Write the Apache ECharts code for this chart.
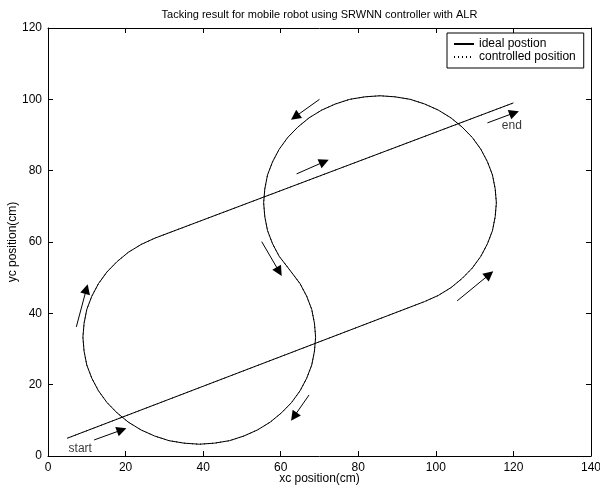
<!DOCTYPE html>
<html>
<head>
<meta charset="utf-8">
<script src="https://cdn.jsdelivr.net/npm/echarts@6/dist/echarts.min.js"></script>
<style>
  html, body { margin: 0; padding: 0; background: #fff; }
  #chart { width: 600px; height: 488px; }
</style>
</head>
<body>
<div id="chart"></div>
<script>
// trajectory (cm): straight run, upper loop (ccw), lower loop (cw), straight run
const pathX = [5,
  97.1, 100.6, 103.9, 106.8, 109.4, 111.6, 113.3, 114.6, 115.3, 115.6, 115.3, 114.6, 113.3, 111.6, 109.4, 106.8, 103.9, 100.6, 97.1, 93.4, 89.5,
  85.6, 81.7, 77.8, 74.1, 70.6, 67.3, 64.4, 61.8, 59.6, 57.9, 56.6, 55.9, 55.6, 55.9, 56.6, 57.9, 59.6, 62.3,
  65.0, 66.7, 68.0, 68.7, 69.0, 68.7, 68.0, 66.7, 65.0, 62.8, 60.2, 57.3, 54.0, 50.5, 46.8, 42.9, 39.0, 35.1, 31.2, 27.5,
  24.0, 20.7, 17.8, 15.2, 13.0, 11.3, 10.0, 9.3, 9.0, 9.3, 10.0, 11.3, 13.0, 15.2, 17.8, 20.7, 24.0, 27.6,
  120];
const pathY = [5,
  43.3, 45.0, 47.2, 49.8, 52.7, 56.0, 59.5, 63.2, 67.1, 71.0, 74.9, 78.8, 82.5, 86.0, 89.3, 92.2, 94.8, 97.0, 98.7, 100.0, 100.7,
  101.0, 100.7, 100.0, 98.7, 97.0, 94.8, 92.2, 89.3, 86.0, 82.5, 78.8, 74.9, 71.0, 67.1, 63.2, 59.5, 56.0, 52.2,
  48.3, 44.8, 41.1, 37.2, 33.3, 29.4, 25.5, 21.8, 18.3, 15.0, 12.1, 9.5, 7.3, 5.6, 4.3, 3.6, 3.3, 3.6, 4.3, 5.6,
  7.3, 9.5, 12.1, 15.0, 18.3, 21.8, 25.5, 29.4, 33.3, 37.2, 41.1, 44.8, 48.3, 51.6, 54.5, 57.1, 59.3, 61.1,
  99];

// direction arrows: tail -> tip
const arrowFromX = [11.9, 7.3, 55.1, 67.3, 70.0, 64.1, 113.3, 105.5];
const arrowFromY = [4.5, 36.2, 60.1, 17.1, 100.0, 79.1, 93.4, 43.5];
const arrowToX = [19.0, 9.9, 59.6, 63.4, 63.7, 71.2, 120.2, 113.8];
const arrowToY = [7.3, 46.8, 51.7, 11.0, 95.1, 82.5, 96.2, 50.9];

const noteText = ['start', 'end'];
const noteX = [5.3, 117.0];
const noteY = [2.1, 92.5];

const seriesNames = ['ideal postion', 'controlled position'];
const xTicks = { min: 0, max: 140, step: 20 };
const yTicks = { min: 0, max: 120, step: 20 };

const font = 'Liberation Sans, Arial, Helvetica, sans-serif';
const chart = echarts.init(document.getElementById('chart'), null, { renderer: 'canvas' });

const path = pathX.map((x, i) => [x, pathY[i]]);
const arrows = arrowFromX.map((x, i) => ({ coords: [[x, arrowFromY[i]], [arrowToX[i], arrowToY[i]]] }));
const notes = noteText.map((t, i) => ({ name: t, value: [noteX[i], noteY[i]] }));

const axisBase = {
  type: 'value',
  nameMoveOverlap: false,
  axisLine: { show: true, onZero: false, lineStyle: { color: '#000', width: 1 } },
  axisTick: { show: true, inside: true, length: 5, lineStyle: { color: '#000' } },
  splitLine: { show: false },
  axisLabel: { color: '#000', fontSize: 12, fontFamily: font, margin: 6 }
};

chart.setOption({
  animation: false,
  backgroundColor: '#fff',
  grid: { left: 48, top: 28, width: 543, height: 428, containLabel: false, outerBoundsMode: 'none' },
  legend: {
    orient: 'vertical',
    left: 447,
    top: 33,
    data: seriesNames,
    itemWidth: 20,
    itemHeight: 12,
    itemGap: 1,
    padding: [5, 8, 5, 6],
    borderColor: '#000',
    borderWidth: 1,
    backgroundColor: '#fff',
    borderRadius: 0,
    itemStyle: { opacity: 0 },
    textStyle: { color: '#000', fontSize: 12, fontFamily: font },
    selectedMode: false
  },
  xAxis: [
    Object.assign({}, axisBase, {
      position: 'bottom', min: xTicks.min, max: xTicks.max, interval: xTicks.step,
      name: 'xc position(cm)', nameLocation: 'middle', nameGap: 17,
      nameTextStyle: { color: '#000', fontSize: 12, fontFamily: font }
    }),
    Object.assign({}, axisBase, {
      position: 'top', min: xTicks.min, max: xTicks.max, interval: xTicks.step,
      axisLabel: { show: false },
      name: 'Tacking result for mobile robot using SRWNN controller with ALR', nameLocation: 'middle', nameGap: 8,
      nameTextStyle: { color: '#000', fontSize: 11, fontFamily: font }
    })
  ],
  yAxis: [
    Object.assign({}, axisBase, {
      position: 'left', min: yTicks.min, max: yTicks.max, interval: yTicks.step,
      name: 'yc position(cm)', nameLocation: 'middle', nameGap: 29,
      nameTextStyle: { color: '#000', fontSize: 12, fontFamily: font }
    }),
    Object.assign({}, axisBase, {
      position: 'right', min: yTicks.min, max: yTicks.max, interval: yTicks.step,
      axisLabel: { show: false }
    })
  ],
  series: [
    {
      name: seriesNames[0],
      type: 'line',
      data: path,
      symbol: 'none',
      smooth: false,
      lineStyle: { color: '#000', width: 1 },
      itemStyle: { color: '#000' },
      z: 3
    },
    {
      name: seriesNames[1],
      type: 'line',
      data: path,
      symbol: 'none',
      smooth: false,
      lineStyle: { color: '#000', width: 1, type: [1, 3] },
      itemStyle: { color: '#000' },
      z: 4
    },
    {
      type: 'lines',
      coordinateSystem: 'cartesian2d',
      data: arrows,
      symbol: ['none', 'triangle'],
      symbolSize: [7, 10],
      symbolOffset: [0, '50%'],
      lineStyle: { color: '#000', width: 1, opacity: 1 },
      itemStyle: { color: '#000' },
      silent: true,
      z: 5
    },
    {
      type: 'scatter',
      data: notes,
      symbolSize: 0,
      silent: true,
      label: {
        show: true,
        position: 'right',
        distance: 0,
        formatter: '{b}',
        color: '#000',
        fontSize: 12,
        fontFamily: font
      },
      z: 6
    }
  ]
});
</script>
</body>
</html>
